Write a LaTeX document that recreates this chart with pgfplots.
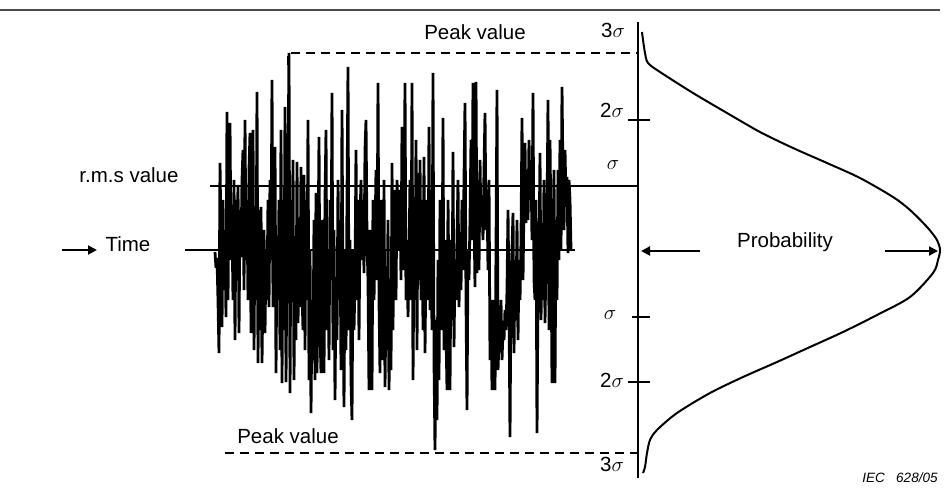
\documentclass[border=0pt]{standalone}
\usepackage{pgfplots}
\pgfplotsset{compat=1.18}
\usepackage{pgfplotstable}
\usepackage{fontspec}
\setmainfont{Liberation Sans}
\usetikzlibrary{arrows.meta}

\pgfplotstableread{
x y
215 252
216 268
217 258
218 300
219 353
220 163
221 240
222 327
223 200
224 290
225 230
226 317
227 112
228 300
229 180
230 123
231 260
232 220
233 300
234 180
235 340
236 200
237 257
238 185
239 333
240 210
241 257
242 180
243 150
244 290
245 120
246 260
247 200
248 300
249 170
250 133
251 333
252 200
253 130
254 350
255 220
256 300
257 92
258 363
259 210
260 330
261 207
262 363
263 280
264 230
265 333
266 250
267 300
268 200
269 307
270 180
271 260
272 80
273 307
274 220
275 147
276 373
277 240
278 300
279 200
280 350
281 130
282 383
283 200
284 330
285 107
286 382
287 250
288 170
289 53
290 393
291 200
292 300
293 160
294 380
295 240
296 340
297 162
298 323
299 250
300 307
301 167
302 290
303 330
304 175
305 350
306 200
307 300
308 120
309 380
310 250
311 413
312 300
313 360
314 220
315 380
316 193
317 373
318 260
319 137
320 330
321 373
322 220
323 300
324 373
325 200
326 130
327 330
328 250
329 360
330 200
331 280
332 93
333 350
334 230
335 400
336 280
337 340
338 180
339 300
340 220
341 370
342 110
343 300
344 407
345 250
346 350
347 200
348 67
349 330
350 240
351 380
352 420
353 250
354 330
355 280
356 150
357 300
358 200
359 340
360 220
361 180
362 260
363 200
364 273
365 150
366 120
367 240
368 280
369 390
370 230
371 330
372 390
373 200
374 300
375 240
376 170
377 280
378 83
379 300
380 373
381 200
382 250
383 360
384 180
385 387
386 300
387 350
388 220
389 390
390 300
391 370
392 163
393 330
394 190
395 223
396 300
397 180
398 220
399 250
400 190
401 280
402 127
403 270
404 240
405 83
406 300
407 240
408 317
409 260
410 180
411 300
412 83
413 380
414 240
415 300
416 140
417 350
418 173
419 280
420 160
421 300
422 200
423 330
424 157
425 353
426 250
427 200
428 300
429 127
430 310
431 220
432 330
433 73
434 360
435 450
436 320
437 420
438 260
439 380
440 200
441 330
442 300
443 118
444 350
445 240
446 330
447 390
448 200
449 300
450 390
451 240
452 320
453 152
454 347
455 260
456 300
457 237
458 180
459 307
460 240
461 290
462 200
463 270
464 180
465 103
466 300
467 410
468 250
469 280
470 220
471 140
472 240
473 83
474 210
475 287
476 82
477 273
478 180
479 270
480 160
481 227
482 200
483 240
484 170
485 113
486 230
487 190
488 270
489 180
490 360
491 300
492 390
493 350
494 300
495 390
496 250
497 90
498 370
499 340
500 350
501 300
502 360
503 330
504 340
505 310
506 330
507 290
508 210
509 300
510 437
511 280
512 250
513 213
514 353
515 260
516 320
517 220
518 340
519 260
520 300
521 240
522 118
523 280
524 200
525 143
526 223
527 170
528 220
529 140
530 200
531 160
532 240
533 93
534 280
535 300
536 200
537 433
538 290
539 260
540 153
541 320
542 250
543 300
544 180
545 323
546 257
547 220
548 100
549 330
550 140
551 240
552 383
553 250
554 170
555 383
556 220
557 300
558 170
559 260
560 140
561 250
562 87
563 180
564 230
565 150
566 200
567 177
568 253
569 180
570 200
571 250
}\signal

\pgfplotstableread{
x y
642 32
643 40
645 53
648 63
660 72
693 93
727 113
760 132
793 148
827 163
860 178
893 197
910 210
927 227
937 240
940 250
938 260
933 273
910 297
877 315
843 332
810 347
777 362
743 377
710 393
677 413
657 430
650 440
647 453
645 467
643 473
}\gauss

\begin{document}
\begin{tikzpicture}
\useasboundingbox (0,0) rectangle (947pt,490pt);
\begin{axis}[
  at={(0,0)}, anchor=south west,
  scale only axis, width=947pt, height=490pt,
  xmin=0, xmax=947, ymin=0, ymax=490, y dir=reverse,
  hide axis, clip=false,
]
% top rule
\addplot[gray!60!black, line width=1.5pt] coordinates {(0,10) (940,10)};
% peak dashed lines
\addplot[black, line width=2pt, dash pattern=on 9pt off 6pt] coordinates {(288,65) (288,53) (638,53)};
\addplot[black, line width=2pt, dash pattern=on 9pt off 6pt] coordinates {(225,453) (638,453)};
% rms and time lines
\addplot[black, line width=2pt] coordinates {(210,186) (638,186)};
\addplot[black, line width=2pt] coordinates {(185,250) (575,250)};
% signal
\addplot[black, line width=2.8pt, line join=miter, miter limit=2] table[x=x,y=y] {\signal};
% probability axis
\addplot[black, line width=2pt] coordinates {(638,22) (638,478)};
\addplot[black, line width=2pt] coordinates {(628,120) (650,120)};
\addplot[black, line width=2pt] coordinates {(632,317) (650,317)};
\addplot[black, line width=2pt] coordinates {(628,382) (650,382)};
% gaussian
\addplot[black, line width=2pt, smooth] table[x=x,y=y] {\gauss};
% arrows
\draw[black, line width=2pt, -{Triangle[length=9pt,width=9pt]}] (axis cs:62,250) -- (axis cs:97,250);
\draw[black, line width=2pt, -{Triangle[length=9pt,width=9pt]}] (axis cs:700,251) -- (axis cs:641,251);
\draw[black, line width=2pt, -{Triangle[length=9pt,width=9pt]}] (axis cs:885,251) -- (axis cs:938,251);
% labels
\node[font=\fontsize{20.5}{24}\selectfont] at (axis cs:475,32) {Peak value};
\node[font=\fontsize{20.5}{24}\selectfont] at (axis cs:288,436) {Peak value};
\node[font=\fontsize{20.5}{24}\selectfont] at (axis cs:129,175) {r.m.s value};
\node[font=\fontsize{20.5}{24}\selectfont] at (axis cs:128,244) {Time};
\node[font=\fontsize{20.5}{24}\selectfont] at (axis cs:785,242) {Probability};
\node[font=\fontsize{20.5}{24}\selectfont] at (axis cs:613,30) {3$\sigma$};
\node[font=\fontsize{20.5}{24}\selectfont] at (axis cs:612,110) {2$\sigma$};
\node[font=\fontsize{20.5}{24}\selectfont] at (axis cs:613,165) {$\sigma$};
\node[font=\fontsize{20.5}{24}\selectfont] at (axis cs:610,315) {$\sigma$};
\node[font=\fontsize{20.5}{24}\selectfont] at (axis cs:612,380) {2$\sigma$};
\node[font=\fontsize{20.5}{24}\selectfont] at (axis cs:612,464) {3$\sigma$};
\node[font=\fontsize{13.5}{16}\selectfont\itshape] at (axis cs:900,478) {IEC\ \ \ 628/05};
\end{axis}
\end{tikzpicture}
\end{document}
